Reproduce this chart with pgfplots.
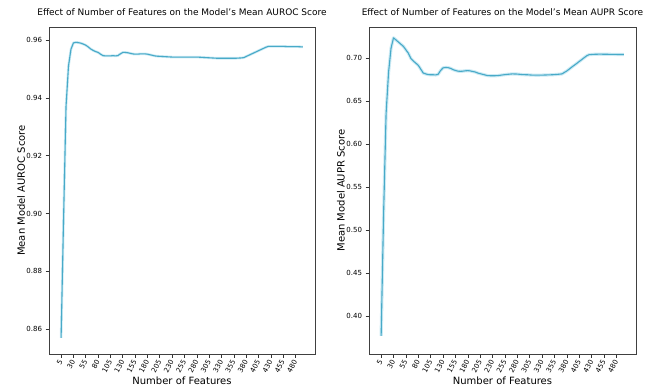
\documentclass[border=0pt]{standalone}
\usepackage{pgfplots}
\pgfplotsset{compat=1.18}
\usepackage{fontspec}
\setmainfont{DejaVu Sans}
\definecolor{lineblue}{RGB}{72,170,200}
\definecolor{bandblue}{RGB}{170,220,236}
\pgfplotsset{
  myaxis/.style={
    scale only axis,
    anchor=south west,
    /pgf/number format/assume math mode=true,
    axis line style={black!75, line width=0.8pt},
    tick style={black!80, line width=0.6pt},
    tick align=outside,
    major tick length=3.5pt,
    xtick pos=bottom, ytick pos=left,
    xmin=-19.5, xmax=519.5,
    xtick={5,30,...,480},
    tick label style={font=\fontsize{7}{8}\selectfont},
    x tick label style={rotate=62, anchor=east, xshift=1pt, yshift=-1pt},
    yticklabel style={/pgf/number format/.cd, fixed, fixed zerofill, precision=2},
    xlabel={Number of Features},
    xlabel style={font=\fontsize{10}{12}\selectfont, at={(axis description cs:0.5,0)}, anchor=center, yshift=-27pt},
    ylabel style={font=\fontsize{10}{12}\selectfont, at={(axis description cs:-0.105,0.5)}, anchor=center},
    title style={font=\fontsize{9}{11}\selectfont, at={(axis description cs:0.5,1)}, anchor=base, inner sep=0pt, yshift=5pt},
  },
}
\pgfplotstableread{
f v
5 0.857
10 0.898
15 0.937
20 0.951
25 0.9568
30 0.9590
35 0.9592
40 0.9591
45 0.9589
50 0.9586
55 0.9582
60 0.9576
65 0.9569
70 0.9564
75 0.9560
80 0.9557
85 0.9551
90 0.9546
95 0.9545
100 0.9545
105 0.9545
110 0.9546
115 0.9545
120 0.9546
125 0.9552
130 0.9557
135 0.9557
140 0.9556
145 0.9554
150 0.9552
155 0.9551
160 0.9551
165 0.9552
170 0.9552
175 0.9552
180 0.9551
185 0.9549
190 0.9547
195 0.9545
200 0.9544
210 0.9543
220 0.9542
230 0.9541
240 0.9541
250 0.9541
260 0.9541
270 0.9541
280 0.9541
290 0.9540
300 0.9539
310 0.9538
320 0.9537
330 0.9537
340 0.9537
350 0.9537
360 0.9537
370 0.9538
375 0.9539
380 0.9543
390 0.9551
400 0.9559
410 0.9567
420 0.9575
425 0.9578
435 0.9578
445 0.9578
455 0.9578
465 0.9577
475 0.9577
485 0.9577
495 0.9576
}\auroc
\pgfplotstableread{
f v
5 0.377
10 0.520
15 0.636
20 0.684
25 0.712
30 0.7240
35 0.7215
40 0.7190
45 0.7165
50 0.7140
55 0.7100
60 0.7060
65 0.7000
70 0.6970
75 0.6945
80 0.6920
85 0.6875
90 0.6830
95 0.6820
100 0.6812
105 0.6810
110 0.6810
115 0.6808
120 0.6815
125 0.6860
130 0.6890
135 0.6895
140 0.6893
145 0.6885
150 0.6870
155 0.6860
160 0.6852
165 0.6850
170 0.6852
175 0.6856
180 0.6858
185 0.6855
190 0.6848
195 0.6842
200 0.6830
210 0.6815
220 0.6800
230 0.6798
240 0.6800
250 0.6808
260 0.6815
270 0.6820
280 0.6818
290 0.6812
300 0.6810
310 0.6806
320 0.6805
330 0.6806
340 0.6808
350 0.6810
360 0.6814
370 0.6820
380 0.6855
390 0.6900
400 0.6943
410 0.6987
420 0.7031
425 0.7044
435 0.7048
445 0.7050
455 0.7049
465 0.7048
475 0.7047
485 0.7046
495 0.7046
}\aupr
\begin{document}
\begin{tikzpicture}
\path[use as bounding box] (0,0) rectangle (652pt,388pt);
\begin{axis}[myaxis,
  at={(49pt,34pt)}, width=266pt, height=327pt,
  ymin=0.8514, ymax=0.9645,
  ytick={0.86,0.88,...,0.961},
  title={Effect of Number of Features on the Model's Mean AUROC Score},
  ylabel={Mean Model AUROC Score},
]
\addplot[bandblue, opacity=0.6, line width=2.6pt, line join=round] table[x=f,y=v] {\auroc};
\addplot[lineblue, line width=1.1pt, line join=round] table[x=f,y=v] {\auroc};
\end{axis}
\begin{axis}[myaxis,
  at={(369pt,34pt)}, width=267pt, height=327pt,
  ymin=0.356, ymax=0.7366,
  ytick={0.40,0.45,...,0.71},
  title={Effect of Number of Features on the Model's Mean AUPR Score},
  ylabel={Mean Model AUPR Score},
]
\addplot[bandblue, opacity=0.6, line width=3.2pt, line join=round] table[x=f,y=v] {\aupr};
\addplot[lineblue, line width=1.1pt, line join=round] table[x=f,y=v] {\aupr};
\end{axis}
\end{tikzpicture}
\end{document}
